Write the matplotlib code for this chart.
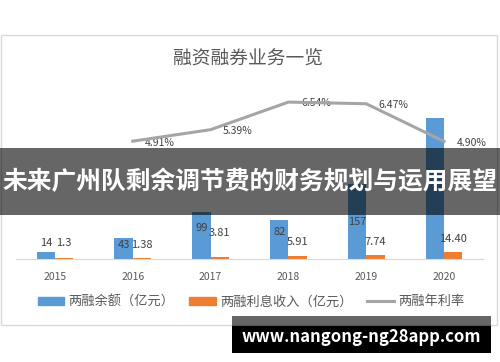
import matplotlib
matplotlib.use('agg')
import matplotlib.pyplot as plt
from matplotlib.patches import Rectangle
import numpy as np

plt.rcParams['font.family'] = ['Noto Sans CJK SC', 'DejaVu Sans']

years = ['2015', '2016', '2017', '2018', '2019', '2020']
balance = [14, 43, 99, 82, 157, 294]          # 两融余额（亿元）
interest = [1.3, 1.38, 3.81, 5.91, 7.74, 14.40]  # 两融利息收入（亿元）
rate = [np.nan, 4.91, 5.39, 6.54, 6.47, 4.90]    # 两融年利率 (%)

balance_labels = ['14', '43', '99', '82', '157', '']
interest_labels = ['1.3', '1.38', '3.81', '5.91', '7.74', '14.40']
# label heights in data units (Excel put them oddly)
balance_label_y = [33, 29, 65, 56, 77, 0]
interest_label_y = [33, 29, 54, 35, 35, 42]

blue = '#5B9BD5'
orange = '#ED7D31'
grey = '#A5A5A5'
txt = '#595959'

fig = plt.figure(figsize=(5, 3.62), dpi=100)

# chart frame
fig.add_artist(Rectangle((0.002, 0.102), 0.992, 0.801, transform=fig.transFigure,
                         facecolor='white', edgecolor='#D9D9D9', lw=1, zorder=0))

ax = fig.add_axes([0.032, 0.2845, 0.934, 0.464])
x = np.arange(len(years))
w = 0.235
ax.bar(x - w / 2, balance, w, color=blue, zorder=2)
ax.bar(x + w / 2, interest, w, color=orange, zorder=2)
ax.set_xlim(-0.5, 5.5)
ax.set_ylim(0, 350)
for s in ['top', 'right', 'left']:
    ax.spines[s].set_visible(False)
ax.spines['bottom'].set_color('#D9D9D9')
ax.set_yticks([])
ax.set_xticks(x)
ax.set_xticklabels(years, fontsize=7.5, color=txt)
ax.tick_params(axis='x', length=0, pad=9)
ax.patch.set_alpha(0)

for i in range(len(years)):
    if balance_labels[i]:
        ax.text(x[i] - w / 2, balance_label_y[i], balance_labels[i], ha='center', va='center',
                fontsize=8, color='#404040', zorder=3)
    ax.text(x[i] + w / 2, interest_label_y[i], interest_labels[i], ha='center', va='center',
            fontsize=8, color='#404040', zorder=3)

ax2 = ax.twinx()
ax2.plot(x, rate, color=grey, lw=2.2, zorder=4)
ax2.set_ylim(0, 7)
ax2.set_yticks([])
for s in ax2.spines.values():
    s.set_visible(False)
for i in range(len(years)):
    if not np.isnan(rate[i]):
        ax2.annotate('%.2f%%' % rate[i], (x[i], rate[i]), xytext=(9, -1),
                     textcoords='offset points', ha='left', va='center',
                     fontsize=7.5, color='#404040')

fig.text(0.496, 0.84, '融资融券业务一览', ha='center', va='center', fontsize=13.5, color=txt)

# legend
handles = [Rectangle((0, 0), 1, 1, color=blue), Rectangle((0, 0), 1, 1, color=orange),
           plt.Line2D([0], [0], color=grey, lw=2.2)]
fig.legend(handles, ['两融余额（亿元）', '两融利息收入（亿元）', '两融年利率'],
           loc='center', bbox_to_anchor=(0.502, 0.166), ncol=3, frameon=False,
           fontsize=9.5, labelcolor=txt, handlelength=2.0, handleheight=0.55,
           columnspacing=1.1, handletextpad=0.35)

# overlay banner
fig.add_artist(Rectangle((0, 0.406), 1, 0.185, transform=fig.transFigure,
                         facecolor='black', alpha=0.6, lw=0, zorder=10))
fig.text(0.5, 0.498, '未来广州队剩余调节费的财务规划与运用展望', ha='center', va='center',
         fontsize=17.8, color='white', fontweight='bold', zorder=11)

# watermark
fig.add_artist(Rectangle((0.464, 0.0995), 0.518, 0.028, transform=fig.transFigure,
                         facecolor='black', alpha=0.6, lw=0, zorder=10))
fig.add_artist(Rectangle((0.464, 0.025), 0.518, 0.0745, transform=fig.transFigure,
                         facecolor='black', lw=0, zorder=10))
fig.text(0.722, 0.069, 'www.nangong-ng28app.com', ha='center', va='center',
         fontsize=12, color='white', fontweight='bold', zorder=11)

plt.savefig('out.png', dpi=100)
